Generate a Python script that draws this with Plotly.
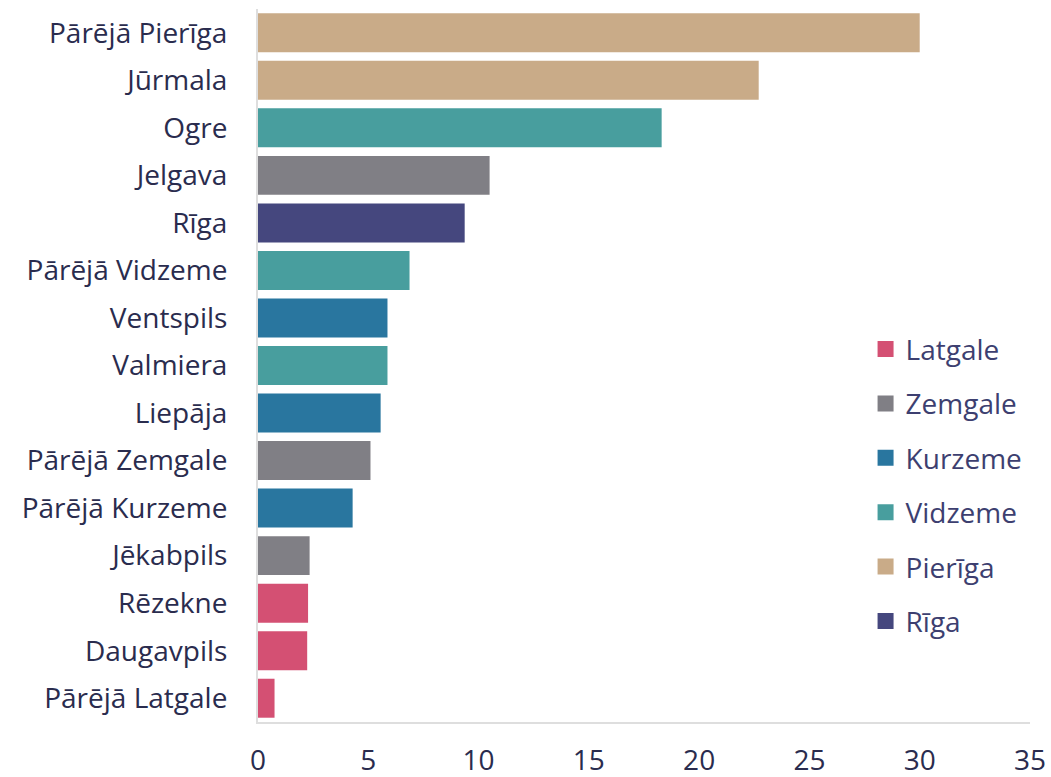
import plotly.graph_objects as go

categories = ["Pārējā Pierīga", "Jūrmala", "Ogre", "Jelgava", "Rīga",
              "Pārējā Vidzeme", "Ventspils", "Valmiera", "Liepāja",
              "Pārējā Zemgale", "Pārējā Kurzeme", "Jēkabpils", "Rēzekne",
              "Daugavpils", "Pārējā Latgale"]
values = [30.0, 22.7, 18.3, 10.5, 9.37, 6.87, 5.87, 5.87, 5.56, 5.1, 4.29,
          2.34, 2.27, 2.23, 0.75]
regions = ["Pierīga", "Pierīga", "Vidzeme", "Zemgale", "Rīga", "Vidzeme",
           "Kurzeme", "Vidzeme", "Kurzeme", "Zemgale", "Kurzeme", "Zemgale",
           "Latgale", "Latgale", "Latgale"]
legend_order = ["Latgale", "Zemgale", "Kurzeme", "Vidzeme", "Pierīga", "Rīga"]
region_colors = {
    "Latgale": "#D45073",
    "Zemgale": "#807F85",
    "Kurzeme": "#29769F",
    "Vidzeme": "#489E9E",
    "Pierīga": "#C9AB88",
    "Rīga": "#45477E",
}
x_ticks = [0, 5, 10, 15, 20, 25, 30, 35]

FONT = "Open Sans"
TEXT = "#2a2c4e"
LEGEND_TEXT = "#3d3f70"
AXIS = "#dedede"

fig = go.Figure()
fig.add_trace(go.Bar(
    y=categories, x=values, orientation="h",
    marker=dict(color=[region_colors[r] for r in regions], line=dict(width=0)),
    showlegend=False, hoverinfo="x+y",
))
for i, r in enumerate(legend_order):
    fig.add_trace(go.Scatter(
        x=[None], y=[None], mode="markers", name=r,
        legendgroup=f"g{i}",
        marker=dict(symbol="square", size=17, color=region_colors[r]),
    ))

fig.update_layout(
    width=1051, height=777,
    margin=dict(l=258, r=21, t=9, b=55, autoexpand=False),
    paper_bgcolor="white", plot_bgcolor="white",
    bargap=0.18,
    font=dict(family=FONT, size=28, color=TEXT),
    legend=dict(
        x=0.787, xanchor="left", y=0.332, yanchor="middle",
        traceorder="grouped", tracegroupgap=15,
        font=dict(family=FONT, size=28, color=LEGEND_TEXT),
        bgcolor="rgba(0,0,0,0)", itemclick=False,
    ),
    xaxis=dict(
        range=[0, 35], tickvals=x_ticks, ticktext=[str(t) for t in x_ticks],
        showgrid=False, zeroline=False, showline=True, linecolor=AXIS,
        linewidth=2, ticks="", ticklabelstandoff=12, automargin=False,
        tickfont=dict(family=FONT, size=28, color=TEXT),
    ),
    yaxis=dict(
        categoryorder="array", categoryarray=categories, autorange="reversed",
        showgrid=False, zeroline=False, showline=True, linecolor=AXIS,
        linewidth=2, ticks="", ticklabelstandoff=23, automargin=False,
        tickfont=dict(family=FONT, size=28, color=TEXT),
    ),
)

fig.write_html(
    "out.html",
    config={"displayModeBar": False},
    post_script="document.body.style.margin='0';document.body.style.overflow='hidden';",
)
